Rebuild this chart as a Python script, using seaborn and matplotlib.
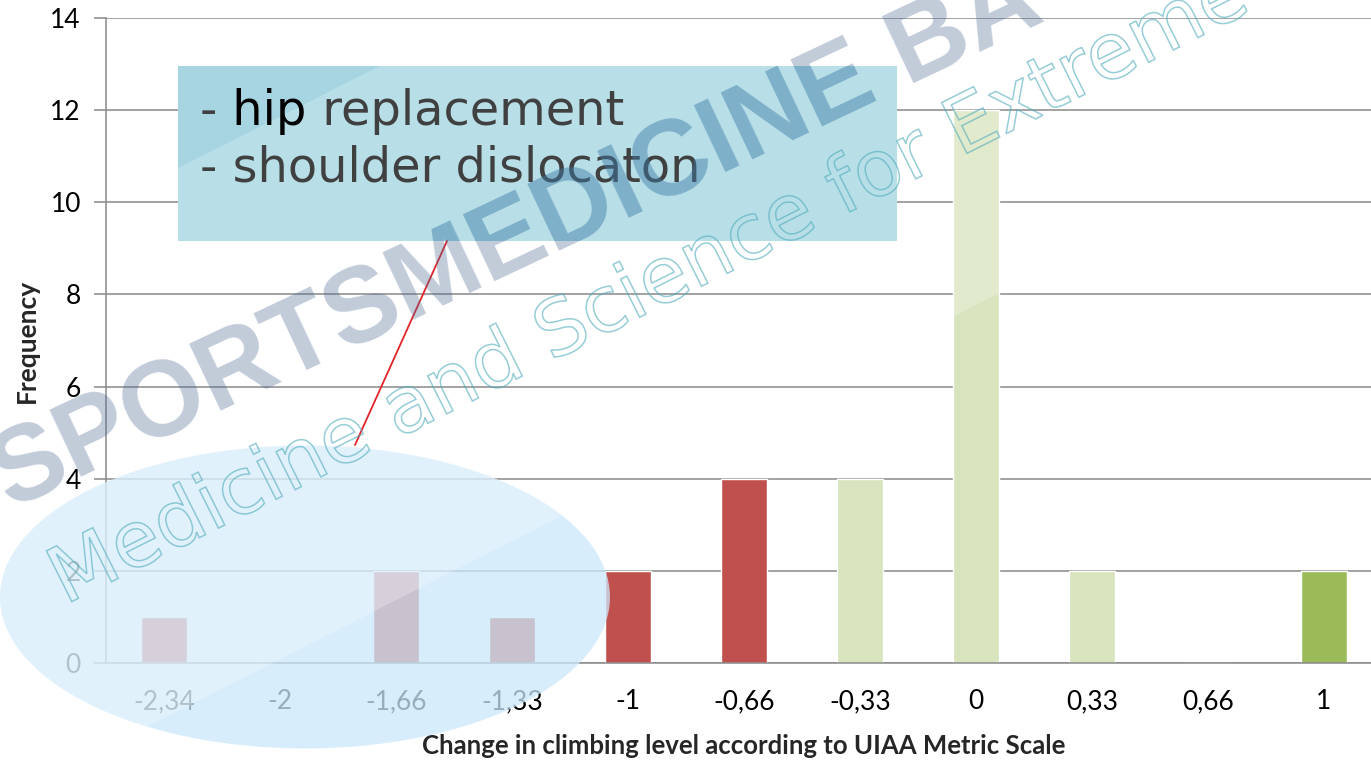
import pandas as pd
import matplotlib
matplotlib.use("Agg")
import matplotlib.pyplot as plt
import matplotlib.patches as mpatches
import matplotlib.transforms as mtransforms
import matplotlib.patheffects as pe
from matplotlib import font_manager
from matplotlib.text import Annotation
import seaborn as sns

# datos del histograma
levels = ["-2,34", "-2", "-1,66", "-1,33", "-1", "-0,66", "-0,33", "0", "0,33", "0,66", "1"]
frequency = [1, 0, 2, 1, 2, 4, 4, 12, 2, 0, 2]
outcome = ["decline"] * 6 + ["unchanged"] * 3 + ["improved"] * 2
palette = {"decline": "#C0504D", "unchanged": "#D7E4BD", "improved": "#9BBB59"}

note_lines = ["-", " hip", " replacement", "- shoulder dislocaton"]
watermark_big = "SPORTSMEDICINE BA"
watermark_thin = "Medicine and Science for Extreme S"

df = pd.DataFrame({"level": levels, "frequency": frequency, "outcome": outcome})


def has_font(family, weight="normal"):
    try:
        font_manager.findfont(font_manager.FontProperties(family=family, weight=weight),
                              fallback_to_default=False)
        return True
    except ValueError:
        return False


sns.set_style("white")
plt.rcParams["font.family"] = ["Lato", "DejaVu Sans"]

W, H = 1371, 761
fig = plt.figure(figsize=(W / 100, H / 100), dpi=100)
# coordenadas en pixeles (origen arriba a la izquierda) para los adornos
px = mtransforms.Affine2D().scale(1 / W, -1 / H).translate(0, 1) + fig.transFigure

ax = fig.add_axes([106 / W, 1 - 663 / H, 1276 / W, 645 / H])
sns.barplot(data=df, x="level", y="frequency", hue="outcome", order=levels,
            palette=palette, dodge=False, width=0.4, saturation=1,
            legend=False, ax=ax, zorder=2)

grey = "#898989"
ax.set_xlim(-0.5, 10.5)
ax.set_ylim(0, 14)
ax.set_yticks(range(0, 15, 2))
ax.yaxis.grid(True, color=grey, linewidth=1.1)
ax.set_axisbelow(True)
for side in ["top", "right"]:
    ax.spines[side].set_visible(False)
for side in ["left", "bottom"]:
    ax.spines[side].set_color(grey)
    ax.spines[side].set_linewidth(1.1)

ax.set_xticks(range(len(levels)))
ax.set_xticklabels(levels)
ax.set_xticks([i - 0.5 for i in range(len(levels) + 1)], minor=True)
ax.tick_params(axis="x", which="major", length=0, pad=19, labelsize=19, labelcolor="black")
ax.tick_params(axis="x", which="minor", length=9, width=1.1, color=grey, direction="out")
ax.tick_params(axis="y", length=9, width=1.1, color=grey, pad=9, labelsize=19,
               labelcolor="black", left=True)

ax.set_xlabel("Change in climbing level according to UIAA Metric Scale",
              fontsize=18.5, fontweight="bold")
ax.xaxis.set_label_coords(0.5, -0.128)
ax.xaxis.label.set_verticalalignment("center")
ax.set_ylabel("Frequency", fontsize=19, fontweight="bold")
ax.yaxis.set_label_coords(-0.062, 0.5)
ax.yaxis.label.set_verticalalignment("center")

# brillo diagonal de la diapositiva
shine_pts = [(-50, 827), (1500, 38.6), (1500, -50), (-50, -50)]
zero_bar = ax.patches[levels.index("0")]
shine_bar = mpatches.Polygon(shine_pts, closed=True, transform=px, facecolor="white",
                             alpha=0.25, edgecolor="none", zorder=2)
fig.add_artist(shine_bar)
shine_bar.set_clip_path(zero_bar)

# cuadro de la nota
box = mpatches.Rectangle((178, 66), 719, 175, transform=px, facecolor="#B8DFE8",
                         edgecolor="none", zorder=3)
fig.add_artist(box)
corner = mpatches.Polygon([(178, 66), (380, 66), (178, 168)], closed=True, transform=px,
                          facecolor="#A6D5E1", edgecolor="none", zorder=3.1)
fig.add_artist(corner)

note_font = dict(fontsize=34.5, family=["DejaVu Sans"], zorder=4)
t1 = fig.text(200, 125, note_lines[0], transform=px, color="#404040", va="baseline", **note_font)
t2 = Annotation(note_lines[1], xy=(1, 0), xycoords=t1, va="bottom", ha="left",
                color="black", **note_font)
fig.add_artist(t2)
t3 = Annotation(note_lines[2], xy=(1, 0), xycoords=t2, va="bottom", ha="left",
                color="#404040", **note_font)
fig.add_artist(t3)
fig.text(200, 182, note_lines[3], transform=px, color="#404040", va="baseline", **note_font)

fig.add_artist(plt.Line2D([447, 355], [241, 445], transform=px, color="#E3242B",
                          linewidth=1.3, zorder=4))

# elipse que marca los casos
ellipse = mpatches.Ellipse((305, 597), 610, 303, transform=px, facecolor="#CBE8FB",
                           alpha=0.75, edgecolor="none", zorder=5)
fig.add_artist(ellipse)
shine_ell = mpatches.Polygon(shine_pts, closed=True, transform=px, facecolor="white",
                             alpha=0.25, edgecolor="none", zorder=5.1)
fig.add_artist(shine_ell)
shine_ell.set_clip_path(ellipse)

# marcas de agua
if has_font("Liberation Sans Narrow", "bold"):
    big_family, big_size = "Liberation Sans Narrow", 93
else:
    big_family, big_size = "Liberation Sans", 77
big_kw = dict(transform=px, rotation=25.3, rotation_mode="anchor", ha="left", va="baseline",
              fontsize=big_size, fontweight="bold", family=[big_family, "DejaVu Sans"])
fig.text(11, 510, watermark_big, color="#4B6890", alpha=0.34, zorder=8, **big_kw)
wm_box = fig.text(11, 510, watermark_big, color="#2A98C8", alpha=0.2, zorder=8.1, **big_kw)
wm_box.set_clip_path(box)

thin_kw = dict(transform=px, rotation=26.6, rotation_mode="anchor", ha="left", va="baseline",
               fontsize=56, family=["DejaVu Sans"], color="none")
fig.text(65, 605, watermark_thin, zorder=9,
         path_effects=[pe.PathPatchEffect(facecolor="none", edgecolor="#50ACBC",
                                          linewidth=1.1, alpha=0.6)], **thin_kw)

fig.savefig("out.png", dpi=100)
